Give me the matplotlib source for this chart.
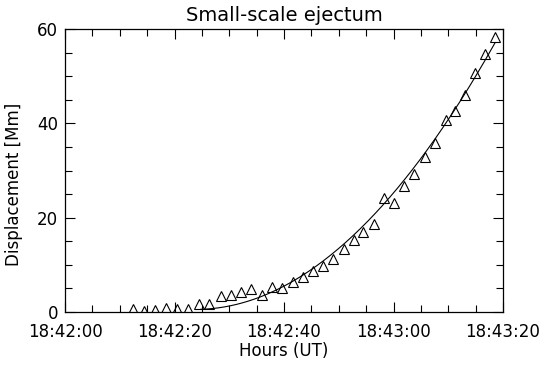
import numpy as np
import matplotlib
matplotlib.use('Agg')
from matplotlib import pyplot as plt
from matplotlib.ticker import MultipleLocator

# seconds after 18:42:00 UT
t_sec = [12.5, 14.5, 16.5, 18.4, 20.4, 22.4, 24.4, 26.3, 28.5, 30.4,
         32.2, 34.0, 36.0, 37.8, 39.7, 41.7, 43.4, 45.3, 47.2, 49.0,
         50.9, 52.7, 54.5, 56.4, 58.2, 60.1, 62.0, 63.8, 65.8, 67.6,
         69.5, 71.3, 73.1, 74.9, 76.8, 78.6]
# displacement in Mm
disp = [0.7, 0.3, 0.5, 0.8, 0.6, 0.6, 1.7, 1.6, 3.3, 3.5,
        4.3, 4.9, 3.7, 5.2, 5.1, 6.4, 7.5, 8.7, 9.8, 11.3,
        13.4, 15.3, 17.0, 18.7, 24.1, 23.2, 26.8, 29.3, 32.8, 35.9,
        40.7, 42.6, 46.1, 50.6, 54.6, 58.4]

# quadratic fit: d = c0 + c1*(t - t_fit0) + c2*(t - t_fit0)**2
t_fit0, t_fit1 = 24.8, 78.5
fit_coef = [0.57, 0.0366, 0.01888]

tick_pos = [0, 20, 40, 60, 80]
tick_labels = ["18:42:00", "18:42:20", "18:42:40", "18:43:00", "18:43:20"]

t = np.array(t_sec)
d = np.array(disp)

tf = np.linspace(t_fit0, t_fit1, 200)
s = tf - t_fit0
df = fit_coef[0] + fit_coef[1] * s + fit_coef[2] * s**2

plt.rcParams['font.family'] = 'DejaVu Sans'
plt.rcParams['font.size'] = 12

fig = plt.figure(figsize=(5.4, 3.67), dpi=100)
ax = fig.add_axes([65/540, 1-312/367, 438/540, 283/367])

ax.plot(t, d, linestyle='none', marker='^', ms=6.5, mfc='none', mec='black', mew=0.8)
ax.plot(tf, df, c='black', lw=0.8)

ax.set_xlim(0, 80)
ax.set_ylim(0, 60)
ax.set_xticks(tick_pos)
ax.set_xticklabels(tick_labels)
ax.xaxis.set_minor_locator(MultipleLocator(5))
ax.yaxis.set_major_locator(MultipleLocator(20))
ax.yaxis.set_minor_locator(MultipleLocator(5))
ax.tick_params(which='both', direction='in', top=True, right=True, width=0.8)
ax.tick_params(which='major', length=7)
ax.tick_params(which='minor', length=5)
ax.tick_params(axis='x', which='major', pad=8)
ax.tick_params(axis='y', which='major', pad=5)
for sp in ax.spines.values():
    sp.set_linewidth(0.9)

ax.set_title('Small-scale ejectum', fontsize=14, pad=6)
ax.set_xlabel('Hours (UT)', labelpad=1)
ax.set_ylabel('Displacement [Mm]')
ax.yaxis.set_label_coords(-0.096, 0.45)

fig.savefig('out.png', dpi=100)
